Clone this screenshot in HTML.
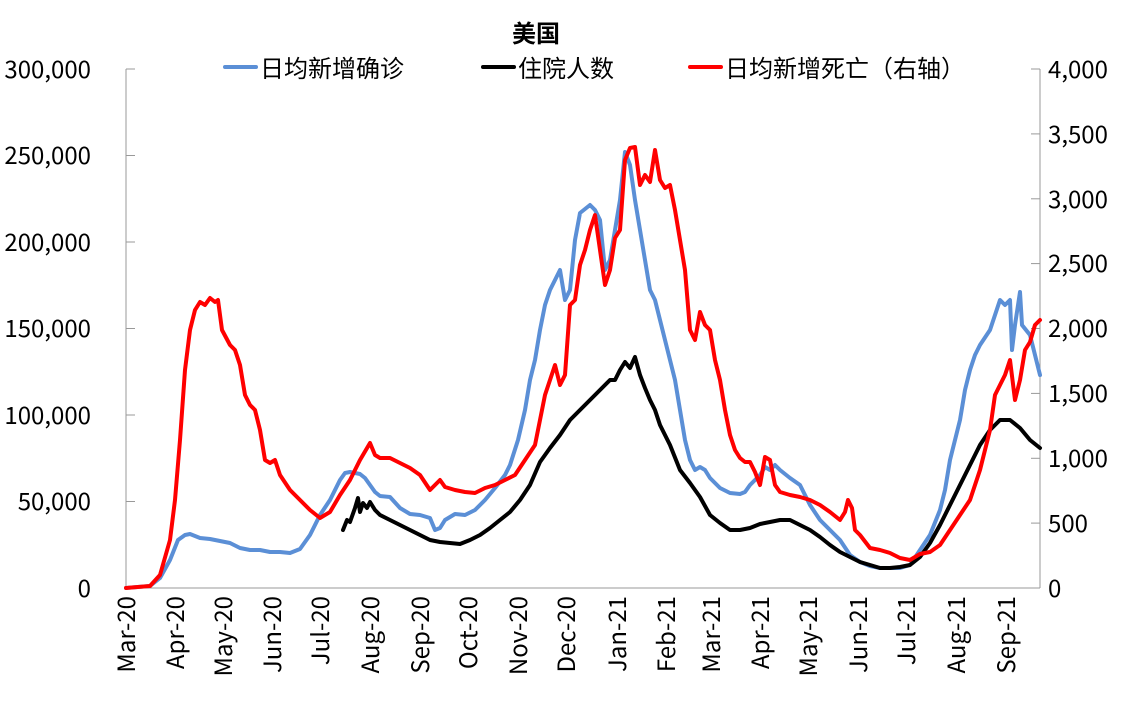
<!DOCTYPE html>
<html><head><meta charset="utf-8"><style>
body{margin:0;background:#fff;}
svg text{font-family:"Noto Sans CJK SC","Liberation Sans",sans-serif;fill:#000;}
</style></head><body>
<svg width="1139" height="700" viewBox="0 0 1139 700">
<text x="536" y="42" font-size="24" font-weight="bold" text-anchor="middle">美国</text>
<line x1="126" y1="69" x2="126" y2="588" stroke="#999" stroke-width="1"/>
<line x1="1040" y1="69" x2="1040" y2="588" stroke="#999" stroke-width="1"/>
<line x1="126" y1="588" x2="1040" y2="588" stroke="#999" stroke-width="1"/>
<g stroke="#999">
<line x1="126" y1="69" x2="135" y2="69"/><line x1="126" y1="155.5" x2="135" y2="155.5"/><line x1="126" y1="242" x2="135" y2="242"/><line x1="126" y1="328.5" x2="135" y2="328.5"/><line x1="126" y1="415" x2="135" y2="415"/><line x1="126" y1="501.5" x2="135" y2="501.5"/>
<line x1="1031" y1="69" x2="1040" y2="69"/><line x1="1031" y1="133.9" x2="1040" y2="133.9"/><line x1="1031" y1="198.8" x2="1040" y2="198.8"/><line x1="1031" y1="263.6" x2="1040" y2="263.6"/><line x1="1031" y1="328.5" x2="1040" y2="328.5"/><line x1="1031" y1="393.4" x2="1040" y2="393.4"/><line x1="1031" y1="458.3" x2="1040" y2="458.3"/><line x1="1031" y1="523.1" x2="1040" y2="523.1"/>
</g>
<g font-size="24" text-anchor="end">
<text x="91" y="78">300,000</text><text x="91" y="164">250,000</text><text x="91" y="251">200,000</text><text x="91" y="337">150,000</text><text x="91" y="424">100,000</text><text x="91" y="510">50,000</text><text x="91" y="597">0</text>
</g>
<g font-size="24">
<text x="1048" y="78">4,000</text><text x="1048" y="143">3,500</text><text x="1048" y="208">3,000</text><text x="1048" y="272">2,500</text><text x="1048" y="337">2,000</text><text x="1048" y="402">1,500</text><text x="1048" y="467">1,000</text><text x="1048" y="532">500</text><text x="1048" y="597">0</text>
</g>
<g font-size="24" text-anchor="end">
<text transform="translate(135,596) rotate(-90)">Mar-20</text>
<text transform="translate(184,596) rotate(-90)">Apr-20</text>
<text transform="translate(232,596) rotate(-90)">May-20</text>
<text transform="translate(281,596) rotate(-90)">Jun-20</text>
<text transform="translate(329,596) rotate(-90)">Jul-20</text>
<text transform="translate(379,596) rotate(-90)">Aug-20</text>
<text transform="translate(429,596) rotate(-90)">Sep-20</text>
<text transform="translate(477,596) rotate(-90)">Oct-20</text>
<text transform="translate(527,596) rotate(-90)">Nov-20</text>
<text transform="translate(575,596) rotate(-90)">Dec-20</text>
<text transform="translate(626,596) rotate(-90)">Jan-21</text>
<text transform="translate(675,596) rotate(-90)">Feb-21</text>
<text transform="translate(720,596) rotate(-90)">Mar-21</text>
<text transform="translate(769,596) rotate(-90)">Apr-21</text>
<text transform="translate(817,596) rotate(-90)">May-21</text>
<text transform="translate(867,596) rotate(-90)">Jun-21</text>
<text transform="translate(915,596) rotate(-90)">Jul-21</text>
<text transform="translate(965,596) rotate(-90)">Aug-21</text>
<text transform="translate(1015,596) rotate(-90)">Sep-21</text>
</g>
<g stroke-width="4" fill="none" stroke-linejoin="round" stroke-linecap="round">
<polyline stroke="#5b8fd6" points="126,588 150,586 160,578 170,560 178,540 185,535 190,534 200,538 210,539 220,541 230,543 240,548 250,550 260,550 270,552 280,552 290,553 300,549 310,535 320,515 330,500 340,480 345,473 350,472 360,474 365,478 370,485 375,492 380,496 390,497 400,508 410,514 420,515 430,518 435,530 440,528 445,520 455,514 465,515 475,510 485,500 495,488 505,475 510,465 518,440 525,410 530,380 535,360 540,330 545,305 550,290 555,280 560,270 565,300 570,290 575,240 580,213 590,205 595,210 600,220 605,270 610,260 615,230 620,200 625,152 630,165 635,200 640,230 645,260 650,290 655,300 660,320 670,360 675,380 680,410 685,440 690,460 695,470 700,467 705,470 710,478 720,488 730,493 740,494 745,492 750,485 760,475 765,467 770,470 775,465 780,470 790,478 800,485 805,495 810,505 820,520 830,530 840,540 850,555 860,562 870,566 880,568 890,568 900,568 910,565 920,550 930,535 940,510 945,490 950,460 955,440 960,420 965,390 970,370 975,355 980,345 990,330 1000,300 1005,305 1010,300 1012,350 1015,325 1020,292 1022,325 1030,335 1035,355 1040,375"/>
<polyline stroke="#000" points="343,530 347,520 350,522 355,508 358,498 360,512 363,503 367,508 370,502 375,510 380,515 390,520 400,525 410,530 420,535 430,540 440,542 450,543 460,544 470,540 480,535 490,528 500,520 510,512 520,500 530,485 540,462 550,448 560,435 570,420 580,410 590,400 600,390 610,380 615,380 620,370 625,362 630,368 635,357 640,375 645,388 650,400 655,410 660,425 670,445 680,470 690,483 700,497 710,515 720,523 730,530 740,530 750,528 760,524 770,522 780,520 790,520 800,525 810,530 820,537 830,545 840,552 850,557 860,562 870,565 880,568 890,568 900,567 910,565 920,557 930,543 940,525 950,505 960,485 970,465 980,445 990,430 1000,420 1010,420 1020,428 1030,440 1040,448"/>
<polyline stroke="#f00" points="126,588 150,586 160,575 170,540 175,500 180,440 185,370 190,330 195,310 200,302 205,305 210,298 215,302 218,300 222,330 230,345 235,350 240,365 245,395 250,405 255,410 260,430 265,460 270,463 275,460 280,475 290,490 300,500 310,510 320,518 330,512 340,495 350,480 360,460 370,443 375,455 380,458 390,458 400,463 410,468 420,475 430,490 440,480 445,487 455,490 465,492 475,493 485,488 495,485 505,480 515,475 525,460 535,445 540,420 545,395 550,380 555,365 560,385 565,375 570,305 575,300 580,265 585,250 590,230 595,215 600,250 605,285 610,270 615,238 620,230 625,160 630,148 635,147 640,185 645,175 650,182 655,150 660,180 665,188 670,185 675,210 680,240 685,270 690,330 695,340 700,312 705,325 710,330 715,360 720,380 725,410 730,435 735,450 740,458 745,462 750,462 755,472 760,485 765,457 770,460 775,485 780,492 790,495 800,497 810,500 820,505 830,512 840,520 845,512 848,500 852,508 855,530 860,535 870,548 880,550 890,553 900,558 910,560 920,554 930,552 940,545 950,530 960,515 970,500 980,470 990,430 995,395 1000,385 1005,375 1010,360 1015,400 1020,380 1025,350 1030,342 1035,325 1040,320"/>
<line x1="225" y1="67" x2="256" y2="67" stroke="#5b8fd6"/>
<line x1="483" y1="67" x2="514" y2="67" stroke="#000"/>
<line x1="690" y1="67" x2="721" y2="67" stroke="#f00"/>
</g>
<g font-size="24">
<text x="260" y="77">日均新增确诊</text>
<text x="518" y="77">住院人数</text>
<text x="725" y="77">日均新增死亡（右轴）</text>
</g>
</svg>
</body></html>
